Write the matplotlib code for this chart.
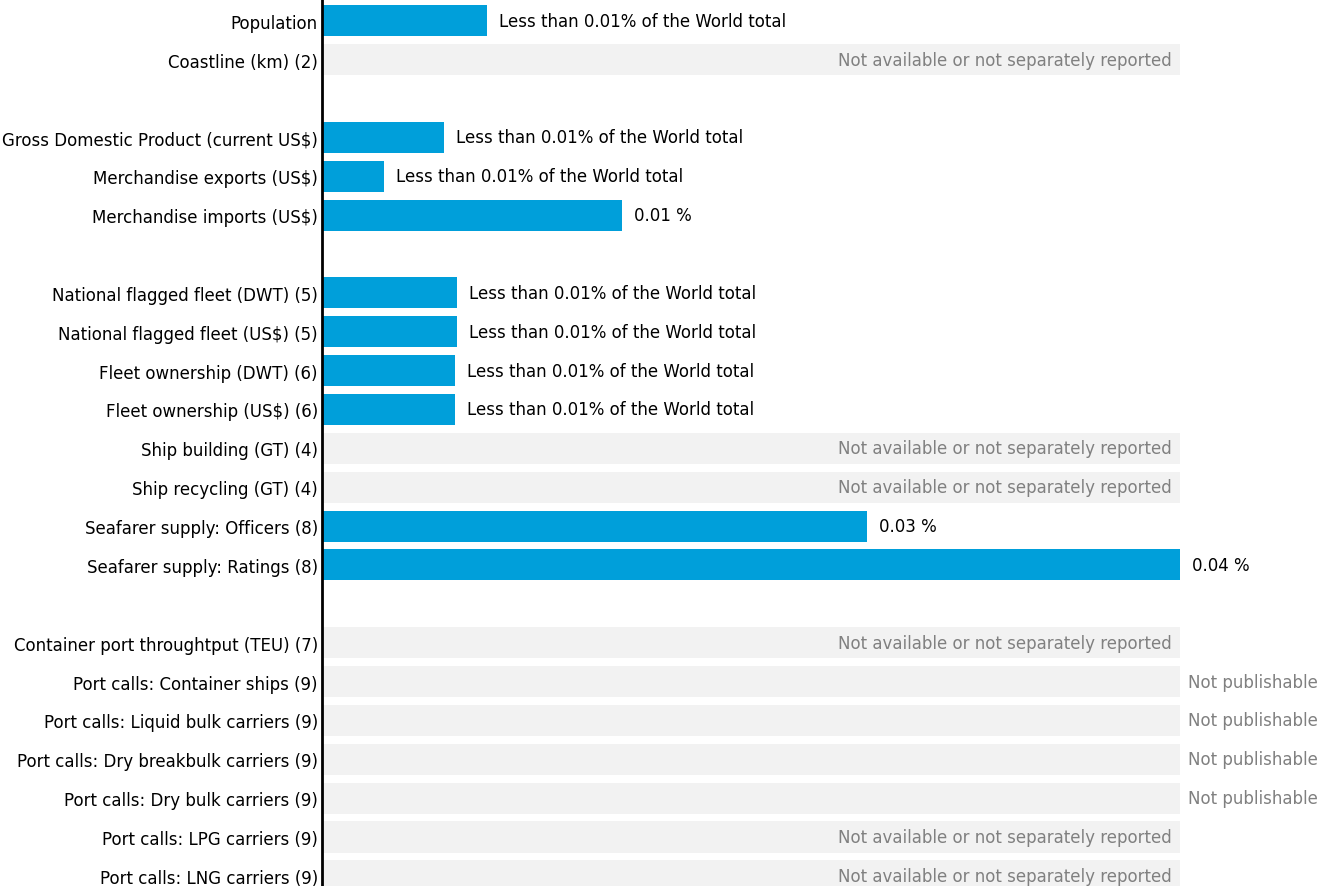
import matplotlib.pyplot as plt
import numpy as np

# row labels, None = empty spacer row
labels = ["Population", "Coastline (km) (2)", None,
          "Gross Domestic Product (current US$)", "Merchandise exports (US$)",
          "Merchandise imports (US$)", None,
          "National flagged fleet (DWT) (5)", "National flagged fleet (US$) (5)",
          "Fleet ownership (DWT) (6)", "Fleet ownership (US$) (6)",
          "Ship building (GT) (4)", "Ship recycling (GT) (4)",
          "Seafarer supply: Officers (8)", "Seafarer supply: Ratings (8)", None,
          "Container port throughtput (TEU) (7)", "Port calls: Container ships (9)",
          "Port calls: Liquid bulk carriers (9)", "Port calls: Dry breakbulk carriers (9)",
          "Port calls: Dry bulk carriers (9)", "Port calls: LPG carriers (9)",
          "Port calls: LNG carriers (9)"]

# share of world total (%), NaN = no bar
shares = [0.0077, np.nan, np.nan,
          0.0057, 0.0029, 0.0140, np.nan,
          0.0063, 0.0063, 0.0062, 0.0062, np.nan, np.nan,
          0.0254, 0.0400, np.nan,
          np.nan, np.nan, np.nan, np.nan, np.nan, np.nan, np.nan]

# status: "lt" less than 0.01%, "val" show value, "na" not available, "np" not publishable
status = ["lt", "na", None,
          "lt", "lt", "val", None,
          "lt", "lt", "lt", "lt", "na", "na",
          "val", "val", None,
          "na", "np", "np", "np", "np", "na", "na"]

value_text = {13: "0.03 %", 14: "0.04 %", 5: "0.01 %"}

blue = "#009fda"
grey_bg = "#f2f2f2"
fs = 12

fig = plt.figure(figsize=(13.3, 8.87), dpi=100)
ax = fig.add_axes([322 / 1330, 0, 1 - 322 / 1330, 1])

full = 0.04
px = full / 858  # one pixel in data units
for i, (lab, v, st) in enumerate(zip(labels, shares, status)):
    if lab is None:
        continue
    if st in ("na", "np"):
        ax.barh(i, full, height=0.8, color=grey_bg, left=0)
        if st == "na":
            ax.text(full - 8 * px, i, "Not available or not separately reported",
                    ha="right", va="center", color="#808080", fontsize=fs)
        else:
            ax.text(full + 8 * px, i, "Not publishable",
                    ha="left", va="center", color="#808080", fontsize=fs)
    else:
        ax.barh(i, v, height=0.8, color=blue, left=0)
        txt = "Less than 0.01% of the World total" if st == "lt" else value_text[i]
        ax.text(v + 12 * px, i, txt, ha="left", va="center", color="black", fontsize=fs)

ax.set_yticks([i for i, l in enumerate(labels) if l is not None])
ax.set_yticklabels([l for l in labels if l is not None], fontsize=fs)
ax.tick_params(axis="y", length=0, pad=3)
ax.set_xticks([])
ax.set_xlim(0, full * 1008 / 858)
ax.set_ylim(22.26, -0.56)
for s in ["top", "right", "bottom"]:
    ax.spines[s].set_visible(False)
ax.spines["left"].set_linewidth(2)

fig.savefig("out.png", dpi=100)
